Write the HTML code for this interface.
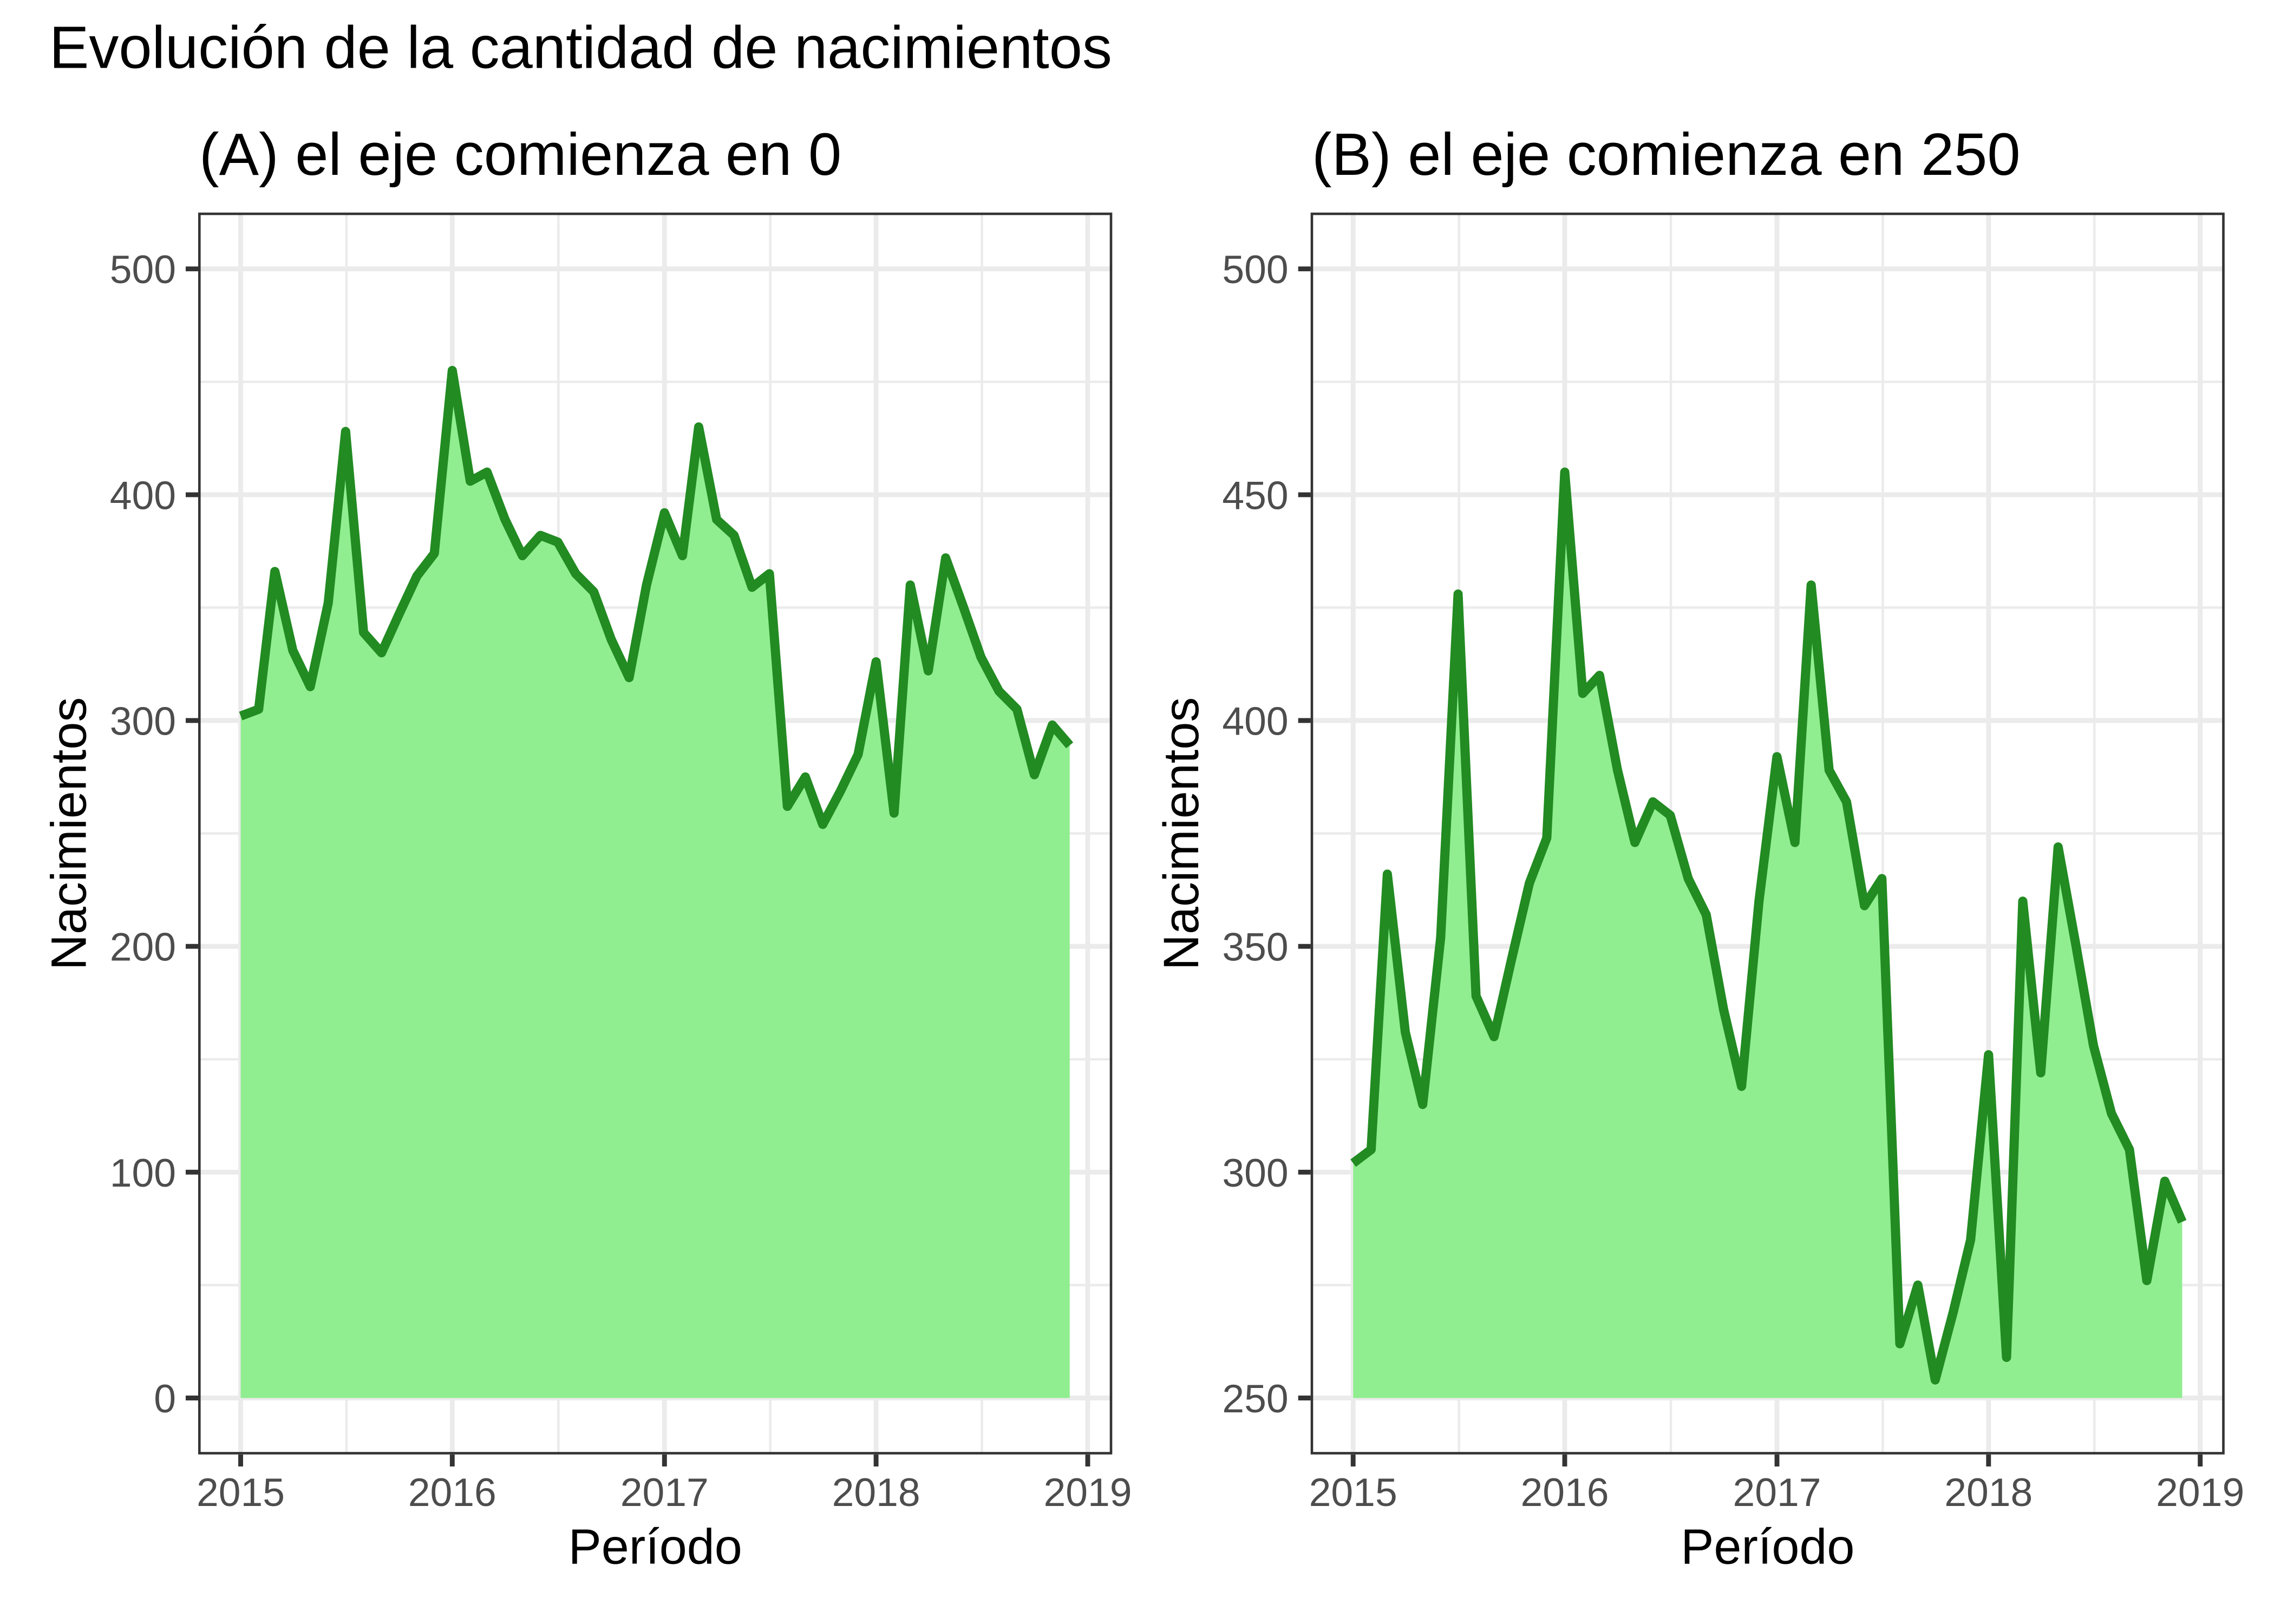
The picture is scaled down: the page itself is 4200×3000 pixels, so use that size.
<!DOCTYPE html>
<html>
<head>
<meta charset="utf-8">
<style>
html,body{margin:0;padding:0;background:#fff;}
svg{display:block;}
text{font-family:"Liberation Sans",Arial,sans-serif;}
</style>
</head>
<body>
<svg xmlns="http://www.w3.org/2000/svg" width="4200" height="3000" viewBox="0 0 4200 3000">
<rect x="0" y="0" width="4200" height="3000" fill="#ffffff"/>

<!-- Titles -->
<text x="91" y="125.5" font-size="110" fill="#000">Evolución de la cantidad de nacimientos</text>
<text x="368" y="323" font-size="110" fill="#000">(A) el eje comienza en 0</text>
<text x="2423" y="323" font-size="110" fill="#000">(B) el eje comienza en 250</text>

<!-- ================= PANEL A ================= -->
<g>
  <!-- minor grid -->
  <g stroke="#EBEBEB" stroke-width="4.45">
    <line x1="366" x2="2054.5" y1="2373.9" y2="2373.9"/>
    <line x1="366" x2="2054.5" y1="1956.8" y2="1956.8"/>
    <line x1="366" x2="2054.5" y1="1539.6" y2="1539.6"/>
    <line x1="366" x2="2054.5" y1="1122.4" y2="1122.4"/>
    <line x1="366" x2="2054.5" y1="705.3" y2="705.3"/>
    <line x1="639.9" x2="639.9" y1="392.5" y2="2687"/>
    <line x1="1031.3" x2="1031.3" y1="392.5" y2="2687"/>
    <line x1="1422.7" x2="1422.7" y1="392.5" y2="2687"/>
    <line x1="1813.5" x2="1813.5" y1="392.5" y2="2687"/>
  </g>
  <!-- major grid -->
  <g stroke="#EBEBEB" stroke-width="8.9">
    <line x1="366" x2="2054.5" y1="2582.5" y2="2582.5"/>
    <line x1="366" x2="2054.5" y1="2165.3" y2="2165.3"/>
    <line x1="366" x2="2054.5" y1="1748.2" y2="1748.2"/>
    <line x1="366" x2="2054.5" y1="1331.0" y2="1331.0"/>
    <line x1="366" x2="2054.5" y1="913.9" y2="913.9"/>
    <line x1="366" x2="2054.5" y1="496.7" y2="496.7"/>
    <line x1="444.5" x2="444.5" y1="392.5" y2="2687"/>
    <line x1="835.3" x2="835.3" y1="392.5" y2="2687"/>
    <line x1="1227.3" x2="1227.3" y1="392.5" y2="2687"/>
    <line x1="1618.1" x2="1618.1" y1="392.5" y2="2687"/>
    <line x1="2009.0" x2="2009.0" y1="392.5" y2="2687"/>
  </g>
  <g transform="translate(444.5,2582.5) scale(1.0708,-4.1716)">
    <polygon fill="#90EE90" stroke="none" points="0,0 0,302 31,305 59,366 90,331 120,315 151,352 181,428 212,339 243,330 273,347 304,364 334,374 365,455 396,406 425,410 456,389 486,373 517,382 547,379 578,365 609,357 639,336 670,319 700,360 731,392 762,373 790,430 821,389 851,382 882,359 912,365 943,262 974,275 1004,254 1035,269 1065,285 1096,326 1127,259 1155,360 1186,322 1216,372 1247,350 1277,328 1308,313 1339,305 1369,276 1400,298 1430,289 1430,0"/>
    <polyline fill="none" stroke="#228B22" stroke-width="17" vector-effect="non-scaling-stroke" stroke-linejoin="round" stroke-linecap="butt" points="0,302 31,305 59,366 90,331 120,315 151,352 181,428 212,339 243,330 273,347 304,364 334,374 365,455 396,406 425,410 456,389 486,373 517,382 547,379 578,365 609,357 639,336 670,319 700,360 731,392 762,373 790,430 821,389 851,382 882,359 912,365 943,262 974,275 1004,254 1035,269 1065,285 1096,326 1127,259 1155,360 1186,322 1216,372 1247,350 1277,328 1308,313 1339,305 1369,276 1400,298 1430,289"/>
  </g>
  <rect x="368.3" y="395" width="1683.7" height="2289.5" fill="none" stroke="#333333" stroke-width="4.6"/>
  <!-- ticks -->
  <g stroke="#333333" stroke-width="8.9">
    <line x1="343" x2="366" y1="2582.5" y2="2582.5"/>
    <line x1="343" x2="366" y1="2165.3" y2="2165.3"/>
    <line x1="343" x2="366" y1="1748.2" y2="1748.2"/>
    <line x1="343" x2="366" y1="1331.0" y2="1331.0"/>
    <line x1="343" x2="366" y1="913.9" y2="913.9"/>
    <line x1="343" x2="366" y1="496.7" y2="496.7"/>
    <line x1="444.5" x2="444.5" y1="2687" y2="2709"/>
    <line x1="835.3" x2="835.3" y1="2687" y2="2709"/>
    <line x1="1227.3" x2="1227.3" y1="2687" y2="2709"/>
    <line x1="1618.1" x2="1618.1" y1="2687" y2="2709"/>
    <line x1="2009.0" x2="2009.0" y1="2687" y2="2709"/>
  </g>
  <g font-size="73.3" fill="#4D4D4D" text-anchor="end">
    <text x="325" y="2609">0</text>
    <text x="325" y="2191.8">100</text>
    <text x="325" y="1774.7">200</text>
    <text x="325" y="1357.5">300</text>
    <text x="325" y="940.4">400</text>
    <text x="325" y="523.2">500</text>
  </g>
  <g font-size="73.3" fill="#4D4D4D" text-anchor="middle">
    <text x="444.5" y="2782">2015</text>
    <text x="835.3" y="2782">2016</text>
    <text x="1227.3" y="2782">2017</text>
    <text x="1618.1" y="2782">2018</text>
    <text x="2009.0" y="2782">2019</text>
  </g>
  <text x="1210.2" y="2888.3" font-size="91.7" fill="#000" text-anchor="middle">Período</text>
  <text transform="translate(158.3,1540) rotate(-90)" font-size="91.7" fill="#000" text-anchor="middle">Nacimientos</text>
</g>

<!-- ================= PANEL B ================= -->
<g>
  <g stroke="#EBEBEB" stroke-width="4.45">
    <line x1="2420.7" x2="4109.2" y1="2373.9" y2="2373.9"/>
    <line x1="2420.7" x2="4109.2" y1="1956.8" y2="1956.8"/>
    <line x1="2420.7" x2="4109.2" y1="1539.6" y2="1539.6"/>
    <line x1="2420.7" x2="4109.2" y1="1122.4" y2="1122.4"/>
    <line x1="2420.7" x2="4109.2" y1="705.3" y2="705.3"/>
    <line x1="2694.6" x2="2694.6" y1="392.5" y2="2687"/>
    <line x1="3086.0" x2="3086.0" y1="392.5" y2="2687"/>
    <line x1="3477.4" x2="3477.4" y1="392.5" y2="2687"/>
    <line x1="3868.2" x2="3868.2" y1="392.5" y2="2687"/>
  </g>
  <g stroke="#EBEBEB" stroke-width="8.9">
    <line x1="2420.7" x2="4109.2" y1="2582.5" y2="2582.5"/>
    <line x1="2420.7" x2="4109.2" y1="2165.3" y2="2165.3"/>
    <line x1="2420.7" x2="4109.2" y1="1748.2" y2="1748.2"/>
    <line x1="2420.7" x2="4109.2" y1="1331.0" y2="1331.0"/>
    <line x1="2420.7" x2="4109.2" y1="913.9" y2="913.9"/>
    <line x1="2420.7" x2="4109.2" y1="496.7" y2="496.7"/>
    <line x1="2499.2" x2="2499.2" y1="392.5" y2="2687"/>
    <line x1="2890.0" x2="2890.0" y1="392.5" y2="2687"/>
    <line x1="3282.0" x2="3282.0" y1="392.5" y2="2687"/>
    <line x1="3672.8" x2="3672.8" y1="392.5" y2="2687"/>
    <line x1="4063.7" x2="4063.7" y1="392.5" y2="2687"/>
  </g>
  <g transform="translate(2499.2,4668.3) scale(1.0708,-8.3432)">
    <polygon fill="#90EE90" stroke="none" points="0,250 0,302 31,305 59,366 90,331 120,315 151,352 181,428 212,339 243,330 273,347 304,364 334,374 365,455 396,406 425,410 456,389 486,373 517,382 547,379 578,365 609,357 639,336 670,319 700,360 731,392 762,373 790,430 821,389 851,382 882,359 912,365 943,262 974,275 1004,254 1035,269 1065,285 1096,326 1127,259 1155,360 1186,322 1216,372 1247,350 1277,328 1308,313 1339,305 1369,276 1400,298 1430,289 1430,250"/>
    <polyline fill="none" stroke="#228B22" stroke-width="17" vector-effect="non-scaling-stroke" stroke-linejoin="round" stroke-linecap="butt" points="0,302 31,305 59,366 90,331 120,315 151,352 181,428 212,339 243,330 273,347 304,364 334,374 365,455 396,406 425,410 456,389 486,373 517,382 547,379 578,365 609,357 639,336 670,319 700,360 731,392 762,373 790,430 821,389 851,382 882,359 912,365 943,262 974,275 1004,254 1035,269 1065,285 1096,326 1127,259 1155,360 1186,322 1216,372 1247,350 1277,328 1308,313 1339,305 1369,276 1400,298 1430,289"/>
  </g>
  <rect x="2423" y="395" width="1683.5" height="2289.5" fill="none" stroke="#333333" stroke-width="4.6"/>
  <g stroke="#333333" stroke-width="8.9">
    <line x1="2397.7" x2="2420.7" y1="2582.5" y2="2582.5"/>
    <line x1="2397.7" x2="2420.7" y1="2165.3" y2="2165.3"/>
    <line x1="2397.7" x2="2420.7" y1="1748.2" y2="1748.2"/>
    <line x1="2397.7" x2="2420.7" y1="1331.0" y2="1331.0"/>
    <line x1="2397.7" x2="2420.7" y1="913.9" y2="913.9"/>
    <line x1="2397.7" x2="2420.7" y1="496.7" y2="496.7"/>
    <line x1="2499.2" x2="2499.2" y1="2687" y2="2709"/>
    <line x1="2890.0" x2="2890.0" y1="2687" y2="2709"/>
    <line x1="3282.0" x2="3282.0" y1="2687" y2="2709"/>
    <line x1="3672.8" x2="3672.8" y1="2687" y2="2709"/>
    <line x1="4063.7" x2="4063.7" y1="2687" y2="2709"/>
  </g>
  <g font-size="73.3" fill="#4D4D4D" text-anchor="end">
    <text x="2379.7" y="2609">250</text>
    <text x="2379.7" y="2191.8">300</text>
    <text x="2379.7" y="1774.7">350</text>
    <text x="2379.7" y="1357.5">400</text>
    <text x="2379.7" y="940.4">450</text>
    <text x="2379.7" y="523.2">500</text>
  </g>
  <g font-size="73.3" fill="#4D4D4D" text-anchor="middle">
    <text x="2499.2" y="2782">2015</text>
    <text x="2890.0" y="2782">2016</text>
    <text x="3282.0" y="2782">2017</text>
    <text x="3672.8" y="2782">2018</text>
    <text x="4063.7" y="2782">2019</text>
  </g>
  <text x="3264.8" y="2888.3" font-size="91.7" fill="#000" text-anchor="middle">Período</text>
  <text transform="translate(2213,1540) rotate(-90)" font-size="91.7" fill="#000" text-anchor="middle">Nacimientos</text>
</g>
</svg>
</body>
</html>
